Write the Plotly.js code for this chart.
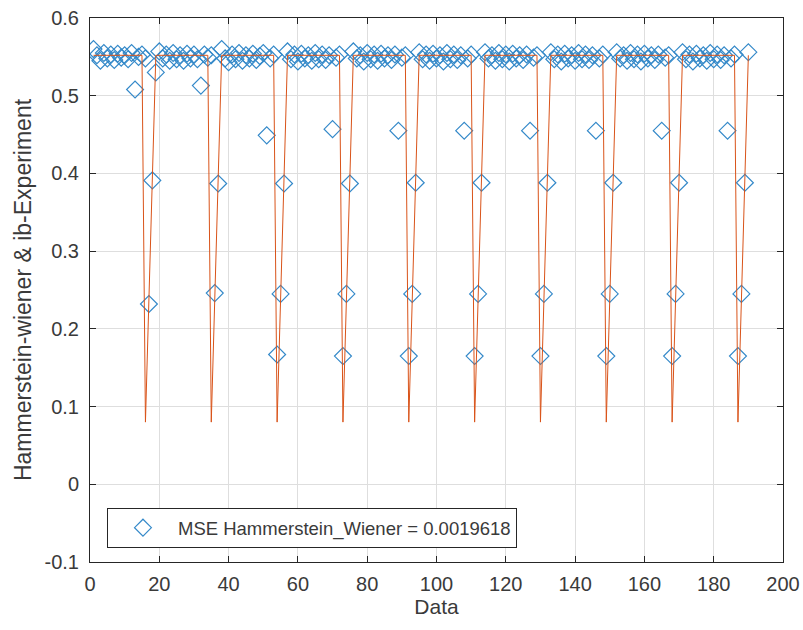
<!DOCTYPE html>
<html>
<head>
<meta charset="utf-8">
<script src="https://cdn.plot.ly/plotly-3.0.1.min.js"></script>
<style>html,body{margin:0;padding:0;background:#fff;}#chart{width:803px;height:630px;}</style>
</head>
<body>
<div id="chart"></div>
<script>
// x positions: 1..190 (10 periods of 19 samples)
const dataIndex = [
  1,2,3,4,5,6,7,8,9,10,11,12,13,14,15,16,17,18,19,
  20,21,22,23,24,25,26,27,28,29,30,31,32,33,34,35,36,37,38,
  39,40,41,42,43,44,45,46,47,48,49,50,51,52,53,54,55,56,57,
  58,59,60,61,62,63,64,65,66,67,68,69,70,71,72,73,74,75,76,
  77,78,79,80,81,82,83,84,85,86,87,88,89,90,91,92,93,94,95,
  96,97,98,99,100,101,102,103,104,105,106,107,108,109,110,111,112,113,114,
  115,116,117,118,119,120,121,122,123,124,125,126,127,128,129,130,131,132,133,
  134,135,136,137,138,139,140,141,142,143,144,145,146,147,148,149,150,151,152,
  153,154,155,156,157,158,159,160,161,162,163,164,165,166,167,168,169,170,171,
  172,173,174,175,176,177,178,179,180,181,182,183,184,185,186,187,188,189,190
];

// ib-Experiment (blue diamonds)
const experiment = [
  0.560,0.552,0.545,0.555,0.548,0.553,0.546,0.554,0.549,0.552,0.547,0.555,0.508,0.550,0.553,0.548,0.232,0.391,0.530,
  0.557,0.548,0.553,0.545,0.555,0.547,0.552,0.545,0.554,0.548,0.553,0.547,0.513,0.553,0.549,0.552,0.246,0.387,0.560,
  0.548,0.543,0.553,0.547,0.555,0.545,0.552,0.548,0.554,0.546,0.551,0.555,0.449,0.548,0.553,0.167,0.245,0.387,0.557,
  0.547,0.553,0.544,0.554,0.548,0.552,0.545,0.555,0.547,0.553,0.546,0.552,0.457,0.549,0.553,0.165,0.245,0.387,0.557,
  0.548,0.552,0.544,0.555,0.547,0.553,0.545,0.554,0.548,0.552,0.546,0.553,0.455,0.549,0.552,0.165,0.245,0.388,0.556,
  0.547,0.553,0.545,0.554,0.548,0.552,0.544,0.555,0.547,0.553,0.546,0.552,0.455,0.548,0.553,0.165,0.245,0.388,0.556,
  0.548,0.552,0.545,0.555,0.547,0.553,0.544,0.554,0.548,0.552,0.546,0.553,0.455,0.549,0.552,0.165,0.245,0.388,0.556,
  0.547,0.553,0.544,0.554,0.548,0.552,0.545,0.555,0.547,0.553,0.546,0.552,0.455,0.548,0.553,0.165,0.245,0.388,0.556,
  0.548,0.552,0.545,0.555,0.547,0.553,0.544,0.554,0.548,0.552,0.546,0.553,0.455,0.549,0.552,0.165,0.245,0.388,0.556,
  0.547,0.553,0.544,0.554,0.548,0.552,0.545,0.555,0.547,0.553,0.546,0.552,0.455,0.548,0.553,0.165,0.245,0.388,0.556
];

// Hammerstein-Wiener model output (orange line)
const model = [
  0.552,0.552,0.552,0.552,0.552,0.552,0.552,0.552,0.552,0.552,0.552,0.552,0.552,0.552,0.552,0.080,0.237,0.393,0.552,
  0.552,0.552,0.552,0.552,0.552,0.552,0.552,0.552,0.552,0.552,0.552,0.552,0.552,0.552,0.552,0.080,0.237,0.393,0.552,
  0.552,0.552,0.552,0.552,0.552,0.552,0.552,0.552,0.552,0.552,0.552,0.552,0.552,0.552,0.552,0.080,0.237,0.393,0.552,
  0.552,0.552,0.552,0.552,0.552,0.552,0.552,0.552,0.552,0.552,0.552,0.552,0.552,0.552,0.552,0.080,0.237,0.393,0.552,
  0.552,0.552,0.552,0.552,0.552,0.552,0.552,0.552,0.552,0.552,0.552,0.552,0.552,0.552,0.552,0.080,0.237,0.393,0.552,
  0.552,0.552,0.552,0.552,0.552,0.552,0.552,0.552,0.552,0.552,0.552,0.552,0.552,0.552,0.552,0.080,0.237,0.393,0.552,
  0.552,0.552,0.552,0.552,0.552,0.552,0.552,0.552,0.552,0.552,0.552,0.552,0.552,0.552,0.552,0.080,0.237,0.393,0.552,
  0.552,0.552,0.552,0.552,0.552,0.552,0.552,0.552,0.552,0.552,0.552,0.552,0.552,0.552,0.552,0.080,0.237,0.393,0.552,
  0.552,0.552,0.552,0.552,0.552,0.552,0.552,0.552,0.552,0.552,0.552,0.552,0.552,0.552,0.552,0.080,0.237,0.393,0.552,
  0.552,0.552,0.552,0.552,0.552,0.552,0.552,0.552,0.552,0.552,0.552,0.552,0.552,0.552,0.552,0.080,0.237,0.393,0.552
];

const xTickVals = [0,20,40,60,80,100,120,140,160,180,200];
const xTickText = ["0","20","40","60","80","100","120","140","160","180","200"];
const yTickVals = [-0.1,0,0.1,0.2,0.3,0.4,0.5,0.6];
const yTickText = ["-0.1","0","0.1","0.2","0.3","0.4","0.5","0.6"];

const legendLabel = "MSE Hammerstein_Wiener = 0.0019618";
const xTitle = "Data";
const yTitle = "Hammerstein-wiener & ib-Experiment";

const font = "Liberation Sans, Arial, Helvetica, sans-serif";

const traces = [
  {
    x: dataIndex, y: experiment, type: "scatter", mode: "markers",
    name: legendLabel,
    marker: {symbol: "diamond-open", size: 13, color: "#3489C9", line: {width: 1.2, color: "#3489C9"}}
  },
  {
    x: dataIndex, y: model, type: "scatter", mode: "lines",
    showlegend: false,
    line: {color: "#D95319", width: 1}
  }
];

const axisCommon = {
  showline: true, linecolor: "#262626", linewidth: 1, mirror: "ticks",
  ticks: "inside", ticklen: 6, tickcolor: "#262626",
  showgrid: true, gridcolor: "#dedede", gridwidth: 1,
  zeroline: false,
  tickfont: {family: font, size: 20, color: "#3a3a3a"}
};

const layout = {
  width: 803, height: 630,
  margin: {l: 90, r: 20, t: 18, b: 68},
  paper_bgcolor: "#ffffff", plot_bgcolor: "#ffffff",
  font: {family: font, color: "#3a3a3a"},
  xaxis: Object.assign({}, axisCommon, {
    range: [0, 200], tickmode: "array", tickvals: xTickVals, ticktext: xTickText,
    ticklabelstandoff: 4,
    title: {text: xTitle, font: {family: font, size: 21, color: "#3a3a3a"}, standoff: 2}
  }),
  yaxis: Object.assign({}, axisCommon, {
    range: [-0.1, 0.6], tickmode: "array", tickvals: yTickVals, ticktext: yTickText,
    ticklabelstandoff: 6,
    title: {text: yTitle, font: {family: font, size: 23, color: "#3a3a3a"}, standoff: 6}
  }),
  showlegend: true,
  legend: {
    x: 0.0245, y: 0.099, xanchor: "left", yanchor: "top",
    bgcolor: "#ffffff", bordercolor: "#262626", borderwidth: 1,
    font: {family: font, size: 18.5, color: "#3a3a3a"},
    itemwidth: 60
  }
};

Plotly.newPlot("chart", traces, layout, {displayModeBar: false, staticPlot: true});
</script>
</body>
</html>
